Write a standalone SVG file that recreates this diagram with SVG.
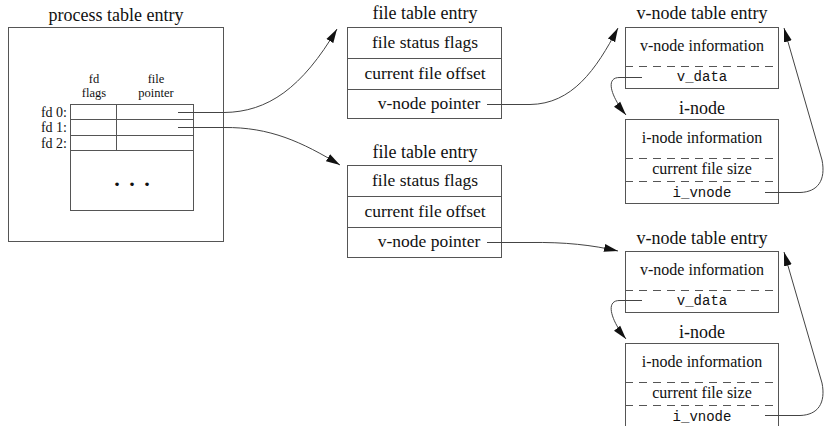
<svg xmlns="http://www.w3.org/2000/svg" width="824" height="426" viewBox="0 0 824 426">
<style>
.bg{fill:#fff}
.box{fill:#fff;stroke:#555;stroke-width:1}
.ln{fill:none;stroke:#555;stroke-width:1}
.dash{fill:none;stroke:#555;stroke-width:1;stroke-dasharray:8 6}
.t{font-family:"Liberation Serif","DejaVu Serif",serif;fill:#111;text-anchor:middle}
.title{font-size:18px}
.row{font-size:17.5px}
.fd{font-size:14px}
.small{font-size:16px}
.hd{font-size:12.5px}
.mono{font-family:"Liberation Mono","DejaVu Sans Mono",monospace;font-size:14px;fill:#111;text-anchor:middle}
.con{fill:none;stroke:#444;stroke-width:1;marker-end:url(#ah)}
</style>
<defs>
<marker id="ah" markerUnits="userSpaceOnUse" markerWidth="16" markerHeight="10" refX="14" refY="5" orient="auto">
<path d="M0,1 L14,5 L0,9 Z" fill="#111"/>
</marker>
</defs>
<rect class="bg" x="0" y="0" width="824" height="426"/>

<g id="process-table">
<text class="t title" x="116" y="21">process table entry</text>
<rect class="box" x="8.5" y="27.5" width="215" height="214"/>
<rect class="box" x="70.5" y="104.5" width="123" height="106"/>
<line class="ln" x1="70" y1="119.5" x2="193" y2="119.5"/>
<line class="ln" x1="70" y1="135.5" x2="193" y2="135.5"/>
<line class="ln" x1="70" y1="150.5" x2="193" y2="150.5"/>
<line class="ln" x1="116.5" y1="104" x2="116.5" y2="150"/>
<text class="t hd"><tspan x="94" y="83">fd</tspan><tspan x="94" y="97">flags</tspan></text>
<text class="t hd"><tspan x="156" y="83">file</tspan><tspan x="156" y="97">pointer</tspan></text>
<text class="t fd" x="67" y="116.5" style="text-anchor:end">fd 0:</text>
<text class="t fd" x="67" y="132" style="text-anchor:end">fd 1:</text>
<text class="t fd" x="67" y="147.5" style="text-anchor:end">fd 2:</text>
<text class="t" style="font-size:22px;font-weight:bold"><tspan x="117" y="186">.</tspan><tspan x="132" y="186">.</tspan><tspan x="147" y="186">.</tspan></text>
</g>

<g id="file-table-1">
<text class="t title" x="425" y="19">file table entry</text>
<rect class="box" x="347.5" y="27.5" width="154" height="91"/>
<line class="ln" x1="347" y1="58.5" x2="501" y2="58.5"/>
<line class="ln" x1="347" y1="89.5" x2="501" y2="89.5"/>
<text class="t row" x="425" y="48">file status flags</text>
<text class="t row" x="425" y="79">current file offset</text>
<text class="t row" x="429" y="109">v-node pointer</text>
</g>

<g id="file-table-2">
<text class="t title" x="425" y="158">file table entry</text>
<rect class="box" x="347.5" y="165.5" width="154" height="92"/>
<line class="ln" x1="347" y1="196.5" x2="501" y2="196.5"/>
<line class="ln" x1="347" y1="227.5" x2="501" y2="227.5"/>
<text class="t row" x="425" y="186">file status flags</text>
<text class="t row" x="425" y="217">current file offset</text>
<text class="t row" x="429" y="247">v-node pointer</text>
</g>

<g id="vnode-1">
<text class="t title" x="702" y="19">v-node table entry</text>
<rect class="box" x="625.5" y="27.5" width="153" height="61"/>
<line class="dash" x1="625" y1="66.5" x2="779" y2="66.5"/>
<text class="t small" x="702" y="51">v-node information</text>
<text class="mono" x="702" y="81">v_data</text>
</g>

<g id="inode-1">
<text class="t title" x="702" y="114">i-node</text>
<rect class="box" x="625.5" y="119.5" width="153" height="84"/>
<line class="dash" x1="625" y1="158.5" x2="779" y2="158.5"/>
<line class="dash" x1="625" y1="181.5" x2="779" y2="181.5"/>
<text class="t small" x="702" y="143">i-node information</text>
<text class="t small" x="702" y="174">current file size</text>
<text class="mono" x="702" y="197">i_vnode</text>
</g>

<g id="vnode-2">
<text class="t title" x="702" y="244">v-node table entry</text>
<rect class="box" x="625.5" y="251.5" width="153" height="61"/>
<line class="dash" x1="625" y1="290.5" x2="779" y2="290.5"/>
<text class="t small" x="702" y="275">v-node information</text>
<text class="mono" x="702" y="305">v_data</text>
</g>

<g id="inode-2">
<text class="t title" x="702" y="338">i-node</text>
<rect class="box" x="625.5" y="343.5" width="153" height="84"/>
<line class="dash" x1="625" y1="382.5" x2="779" y2="382.5"/>
<line class="dash" x1="625" y1="405.5" x2="779" y2="405.5"/>
<text class="t small" x="702" y="367">i-node information</text>
<text class="t small" x="702" y="398">current file size</text>
<text class="mono" x="702" y="421">i_vnode</text>
</g>

<g id="connectors">
<path class="con" d="M178,112.5 H224 C268,112 302,88 337,29"/>
<path class="con" d="M178,127.5 H224 C270,127 302,142 340,165"/>
<path class="con" d="M487,104.5 H530 C572,104 596,70 618,28"/>
<path class="con" d="M487,242.5 H530 C565,242 592,245 618,251"/>
<path class="con" d="M642,77.5 H620 C604,77 612,98 626,115"/>
<path class="con" d="M642,300.5 H620 C604,300 612,322 626,339"/>
<path class="con" d="M765,192.5 H800 C818,192 826,180 822,160 L784,28"/>
<path class="con" d="M765,415.5 H800 C818,415 826,403 822,383 L784,252"/>
</g>
</svg>
